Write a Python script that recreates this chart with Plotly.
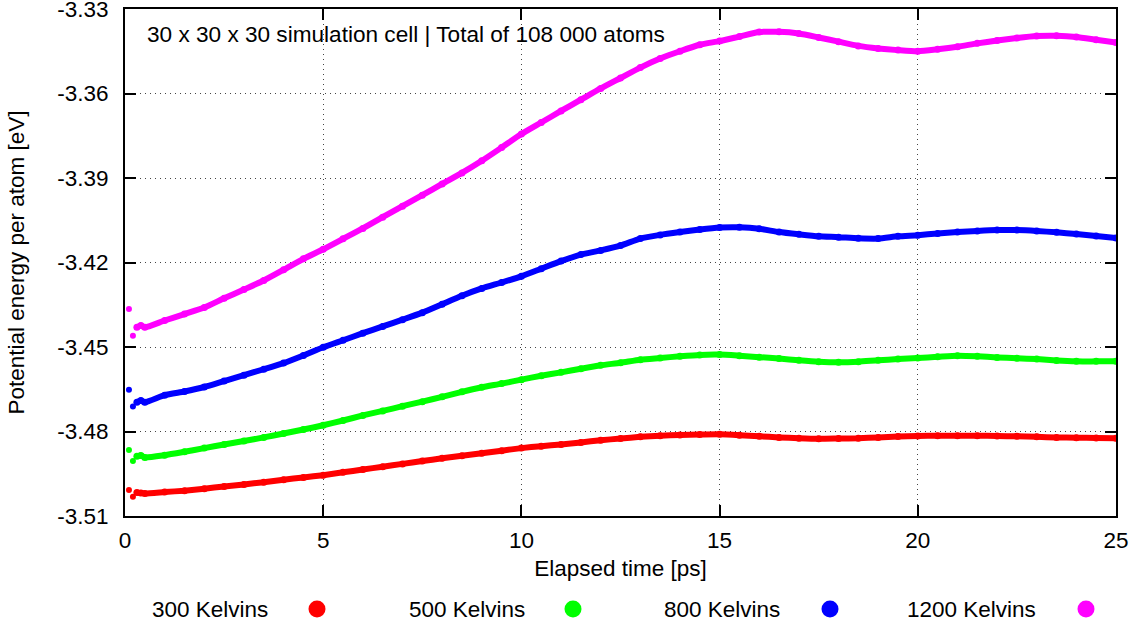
import plotly.graph_objects as go

# Elapsed time [ps]
time_ps = [0.1, 0.2, 0.3, 0.4, 0.5,
           1.0, 1.5, 2.0, 2.5, 3.0, 3.5, 4.0, 4.5, 5.0, 5.5, 6.0, 6.5, 7.0, 7.5,
           8.0, 8.5, 9.0, 9.5, 10.0, 10.5, 11.0, 11.5, 12.0, 12.5, 13.0, 13.5,
           14.0, 14.5, 15.0, 15.5, 16.0, 16.5, 17.0, 17.5, 18.0, 18.5, 19.0,
           19.5, 20.0, 20.5, 21.0, 21.5, 22.0, 22.5, 23.0, 23.5, 24.0, 24.5, 25.0]

# Potential energy per atom [eV]
e_300K = [-3.5008, -3.5032, -3.5017, -3.5018, -3.5020,
          -3.5015, -3.5010, -3.5003, -3.4995, -3.4988, -3.4980, -3.4971, -3.4963,
          -3.4955, -3.4945, -3.4935, -3.4925, -3.4915, -3.4905, -3.4895, -3.4886,
          -3.4877, -3.4868, -3.4859, -3.4852, -3.4846, -3.4839, -3.4831, -3.4825,
          -3.4819, -3.4815, -3.4812, -3.4811, -3.4810, -3.4813, -3.4817, -3.4821,
          -3.4824, -3.4826, -3.4825, -3.4824, -3.4821, -3.4818, -3.4816, -3.4815,
          -3.4815, -3.4815, -3.4816, -3.4817, -3.4819, -3.4821, -3.4822, -3.4823,
          -3.4824]
e_500K = [-3.4866, -3.4905, -3.4888, -3.4885, -3.4892,
          -3.4884, -3.4872, -3.4859, -3.4846, -3.4834, -3.4821, -3.4807, -3.4793,
          -3.4778, -3.4761, -3.4743, -3.4727, -3.4710, -3.4694, -3.4677, -3.4659,
          -3.4643, -3.4630, -3.4616, -3.4602, -3.4590, -3.4577, -3.4565, -3.4556,
          -3.4545, -3.4539, -3.4533, -3.4528, -3.4527, -3.4531, -3.4536, -3.4541,
          -3.4547, -3.4552, -3.4554, -3.4552, -3.4547, -3.4543, -3.4539, -3.4535,
          -3.4531, -3.4533, -3.4537, -3.4540, -3.4543, -3.4548, -3.4551, -3.4551,
          -3.4551]
e_800K = [-3.4652, -3.4711, -3.4696, -3.4690, -3.4696,
          -3.4671, -3.4658, -3.4642, -3.4621, -3.4600, -3.4579, -3.4557, -3.4530,
          -3.4501, -3.4476, -3.4451, -3.4427, -3.4403, -3.4378, -3.4348, -3.4318,
          -3.4292, -3.4271, -3.4249, -3.4222, -3.4195, -3.4172, -3.4157, -3.4140,
          -3.4115, -3.4102, -3.4092, -3.4083, -3.4076, -3.4075, -3.4080, -3.4092,
          -3.4100, -3.4107, -3.4110, -3.4114, -3.4115, -3.4107, -3.4103, -3.4097,
          -3.4092, -3.4088, -3.4085, -3.4085, -3.4088, -3.4093, -3.4099, -3.4106,
          -3.4113]
e_1200K = [-3.4365, -3.4460, -3.4430, -3.4424, -3.4430,
           -3.4406, -3.4383, -3.4360, -3.4327, -3.4296, -3.4264, -3.4226, -3.4187,
           -3.4153, -3.4116, -3.4079, -3.4039, -3.4000, -3.3961, -3.3921, -3.3882,
           -3.3839, -3.3792, -3.3744, -3.3703, -3.3662, -3.3622, -3.3582, -3.3545,
           -3.3508, -3.3476, -3.3450, -3.3427, -3.3414, -3.3398, -3.3382, -3.3381,
           -3.3387, -3.3401, -3.3416, -3.3431, -3.3440, -3.3446, -3.3450, -3.3443,
           -3.3434, -3.3422, -3.3412, -3.3403, -3.3396, -3.3395, -3.3399, -3.3409,
           -3.3419]

series_names = ["300 Kelvins", "500 Kelvins", "800 Kelvins", "1200 Kelvins"]
series_values = [e_300K, e_500K, e_800K, e_1200K]
series_colors = ["#ff0000", "#00ff00", "#0000ff", "#ff00ff"]

y_ticks = [-3.51, -3.48, -3.45, -3.42, -3.39, -3.36, -3.33]
x_ticks = [0, 5, 10, 15, 20, 25]

FONT = "Liberation Sans, Arial, Helvetica, sans-serif"
FS = 22.5

fig = go.Figure()
for name, vals, col in zip(series_names, series_values, series_colors):
    # first transient samples: isolated dots
    fig.add_trace(go.Scatter(x=time_ps[:2], y=vals[:2], mode="markers",
                             marker=dict(color=col, size=6), showlegend=False,
                             name=name, hoverinfo="skip"))
    fig.add_trace(go.Scatter(x=time_ps[2:], y=vals[2:], mode="lines+markers",
                             line=dict(color=col, width=6, shape="spline", smoothing=0.6),
                             marker=dict(color=col, size=7),
                             showlegend=False, name=name))

# plot area in pixels: left 125, right 1116, top 9, bottom 516
L, R, T, B = 125, 1116, 9, 516
W, H = R - L, B - T

def px_x(p):
    return (p - L) / W

def px_y(p):
    return (B - p) / H

annotations = [dict(text="30 x 30 x 30 simulation cell | Total of 108 000 atoms",
                    xref="paper", yref="paper", x=px_x(145), y=px_y(34),
                    xanchor="left", yanchor="middle", showarrow=False,
                    font=dict(family=FONT, size=22.6, color="black"))]
shapes = []
legend_text_right = [270, 527, 782, 1038]
legend_dot = [317, 573, 830, 1086]
for name, col, tr, dx in zip(series_names, series_colors, legend_text_right, legend_dot):
    annotations.append(dict(text=name, xref="paper", yref="paper",
                            x=px_x(tr), y=px_y(609), xanchor="right", yanchor="middle",
                            showarrow=False, font=dict(family=FONT, size=FS, color="black")))
    shapes.append(dict(type="circle", xref="paper", yref="paper",
                       xsizemode="pixel", ysizemode="pixel",
                       xanchor=px_x(dx), yanchor=px_y(609),
                       x0=-8.5, x1=8.5, y0=-8.5, y1=8.5,
                       fillcolor=col, line=dict(width=0)))

axis_common = dict(showline=True, linecolor="black", linewidth=2, mirror="ticks",
                   ticks="inside", ticklen=11, tickwidth=2, tickcolor="black",
                   showgrid=True, gridcolor="#444444", gridwidth=1, griddash="1px,4px",
                   zeroline=False, ticklabeloverflow="allow", automargin=False,
                   tickfont=dict(family=FONT, size=FS, color="black"))

fig.update_layout(
    width=1146, height=629,
    margin=dict(l=L, r=1146 - R, t=T, b=629 - B, autoexpand=False),
    paper_bgcolor="white", plot_bgcolor="white",
    font=dict(family=FONT, size=FS, color="black"),
    xaxis=dict(range=[0, 25], tickvals=x_ticks, ticktext=[str(v) for v in x_ticks],
               ticklabelstandoff=3,
               title=dict(text="Elapsed time [ps]", standoff=8,
                          font=dict(family=FONT, size=FS)), **axis_common),
    yaxis=dict(range=[-3.51, -3.3299999], tickvals=y_ticks,
               ticktext=[f"{v:.2f}" for v in y_ticks], ticklabelstandoff=10,
               title=dict(text="Potential energy per atom [eV]", standoff=26,
                          font=dict(family=FONT, size=FS)), **axis_common),
    annotations=annotations, shapes=shapes, showlegend=False,
)

fig.write_html("out.html")
